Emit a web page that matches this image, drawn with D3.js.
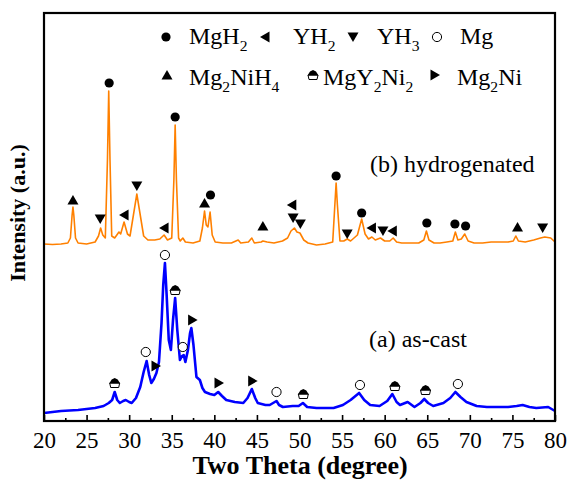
<!DOCTYPE html>
<html><head><meta charset="utf-8">
<script src="https://cdn.jsdelivr.net/npm/d3@7"></script>
<style>body{margin:0;background:#fff}svg{display:block}text{font-family:"Liberation Serif","Times New Roman",serif}</style>
</head><body><svg id="c" width="568" height="481"></svg>
<script>
// ---- data (2theta in degrees, intensity in arbitrary units) ----
const hydrogenated = [[20,177],[21,176.5],[22,177],[22.8,178],[23.1,183],[23.3,206],[23.4,214],[23.5,206],[23.7,183],[24,178],[25,177],[26,179],[26.4,185],[26.65,193],[26.9,186],[27.2,183],[27.45,261],[27.6,330],[27.75,261],[27.95,185],[28.3,183],[28.8,189],[29,187],[29.4,199],[29.8,187],[30.1,185],[30.5,206],[30.9,227],[31.3,206],[31.7,185],[32.2,181],[33,181],[33.6,182],[34.1,186],[34.5,181],[35,183],[35.25,241],[35.4,296],[35.55,241],[35.8,183],[36,180],[36.3,183],[36.6,179],[37.5,178],[38.3,180],[38.6,193],[38.85,210],[39.05,196],[39.25,194],[39.5,209],[39.75,186],[40.1,179],[41,178],[42,178],[42.8,181],[43.1,178],[44,179],[44.4,183],[44.7,178],[45.5,179],[45.7,180],[46.2,179],[47,178],[48,180],[48.6,183],[49,190],[49.4,193],[49.7,189],[50.05,188],[50.5,181],[51,178],[52,176],[53,177],[53.9,179],[54.15,216],[54.3,238],[54.45,216],[54.75,180],[55.2,180],[55.6,182],[56,180],[56.8,186],[57.3,202],[57.7,187],[58.1,182],[58.5,184],[58.9,181],[59.5,183],[60,180],[60.6,180],[61,183],[61.4,179],[62,178],[63,178],[64,178],[64.6,181],[64.9,190],[65.2,181],[65.8,178],[66.5,178],[67.3,179],[68,180],[68.3,189],[68.6,181],[69,182],[69.4,187],[69.8,180],[70.5,178],[71.5,178],[72.5,179],[73.5,179],[74.5,179],[75.1,180],[75.4,185],[75.7,180],[76.5,179],[77.5,181],[78.3,183],[78.8,184],[79.5,183],[80,179]];
const asCast = [[20,8],[21,9],[22,10],[23,10.5],[24,11],[25,12],[26,13],[27,15],[27.6,18],[28,21],[28.3,29],[28.6,21],[28.9,18],[29.3,20],[29.6,21],[30,19],[30.3,18],[30.8,23],[31.3,34],[31.7,49],[32.05,60],[32.35,46],[32.6,38],[32.9,42],[33.2,48],[33.5,59],[33.8,98],[34,136],[34.2,158],[34.4,126],[34.65,81],[34.9,71],[35.15,101],[35.4,123],[35.65,91],[35.96,61],[36.2,65],[36.4,66],[36.6,59],[36.9,71],[37.15,88],[37.3,93],[37.55,76],[37.9,44],[38.3,41],[38.6,33],[38.9,29],[39.5,27],[40,26],[40.45,29],[40.9,25],[41.4,21],[42.4,19],[43.4,18],[43.9,23],[44.4,32],[44.8,23],[45.1,18],[46,16],[46.5,16],[47.3,20],[47.6,16],[48.05,14],[49.2,15],[49.9,15],[50.4,18],[50.9,14],[52,13],[52.8,13],[54,13],[55.1,16],[56,21],[57,28],[57.6,21],[58.3,16],[59.4,15],[60.3,20],[60.9,27],[61.4,19],[61.8,16],[62.7,19],[63.5,14],[64.2,18],[64.65,22],[65.1,18],[65.7,15],[66.9,18],[67.7,23],[68.3,29],[68.9,24],[69.6,19],[70.8,15],[72,14],[73.1,14],[74.5,14],[75.5,15],[76.2,16],[77,14],[77.8,13],[79.2,14],[80,10]];

// phase markers: [2theta, level]
const mgH2 = [[27.65,338],[35.4,304],[39.55,226],[54.3,245],[57.3,208],[64.95,198],[68.25,197],[69.5,195]];
const yH2 = [[29.4,206],[34.1,193],[49.1,216],[58.45,193],[60.9,190]];
const yH3 = [[26.6,202],[30.9,235],[49.25,203],[50.1,197],[55.6,187],[59.8,190],[78.55,193]];
const mg = [[31.95,69],[34.2,166],[36.3,74],[47.3,29],[57.1,36],[68.6,37]];
const mg2NiH4 = [[23.4,221],[38.85,218],[45.7,195],[75.6,194]];
const mgY2Ni2 = [[28.3,38],[35.4,131],[50.45,27],[61.2,35],[64.8,31]];
const mg2Ni = [[33.15,55],[37.45,101],[40.55,38],[44.5,40]];

const xMajor = [20,25,30,35,40,45,50,55,60,65,70,75,80];
const xMinor = [22.5,27.5,32.5,37.5,42.5,47.5,52.5,57.5,62.5,67.5,72.5,77.5];

// ---- drawing ----
const svg = d3.select("#c");
const L=44, R=555, T=13, B=421;
const x = d3.scaleLinear().domain([20,80]).range([L,R]);
const y = d3.scaleLinear().domain([0,408]).range([B,T]);

const line = d3.line().x(d=>x(d[0])).y(d=>y(d[1]));
svg.append("path").datum(asCast).attr("d",line).attr("fill","none").attr("stroke","#0000ff").attr("stroke-width",2.6).attr("stroke-linejoin","round");
svg.append("path").datum(hydrogenated).attr("d",line).attr("fill","none").attr("stroke","#ff8000").attr("stroke-width",1.6).attr("stroke-linejoin","round");

// axes (inward ticks)
const gx = svg.append("g").attr("transform",`translate(0,${B})`)
  .call(d3.axisBottom(x).tickValues(xMajor).tickSize(-6).tickFormat(d3.format("d")));
gx.select(".domain").remove();
gx.selectAll("line").attr("stroke","#000").attr("stroke-width",1.6);
gx.selectAll("text").attr("font-size",23).attr("fill","#000").attr("dy","0").attr("y",27);
const gm = svg.append("g").attr("transform",`translate(0,${B})`)
  .call(d3.axisBottom(x).tickValues(xMinor).tickSize(-3).tickFormat(""));
gm.select(".domain").remove();
gm.selectAll("line").attr("stroke","#000").attr("stroke-width",1.6);

svg.append("rect").attr("x",L).attr("y",T).attr("width",R-L).attr("height",B-T)
  .attr("fill","none").attr("stroke","#000").attr("stroke-width",2.2);

svg.append("text").attr("x",300).attr("y",474).attr("text-anchor","middle")
  .attr("font-size",26).attr("font-weight","bold").text("Two Theta (degree)");
svg.append("text").attr("transform","translate(25,213) rotate(-90)").attr("text-anchor","middle")
  .attr("font-size",22).attr("font-weight","bold").text("Intensity (a.u.)");

// marker symbols
function drawMarker(g, type, cx, cy){
  if(type==="dot") g.append("circle").attr("cx",cx).attr("cy",cy).attr("r",4.6).attr("fill","#000");
  else if(type==="ring") g.append("circle").attr("cx",cx).attr("cy",cy).attr("r",4.6).attr("fill","#fff").attr("stroke","#000").attr("stroke-width",1);
  else if(type==="up") g.append("path").attr("d",`M${cx-5.5},${cy+4.5}L${cx+5.5},${cy+4.5}L${cx},${cy-5}Z`).attr("fill","#000");
  else if(type==="down") g.append("path").attr("d",`M${cx-5.5},${cy-4.5}L${cx+5.5},${cy-4.5}L${cx},${cy+5}Z`).attr("fill","#000");
  else if(type==="left") g.append("path").attr("d",`M${cx+4.5},${cy-5.5}L${cx+4.5},${cy+5.5}L${cx-5},${cy}Z`).attr("fill","#000");
  else if(type==="right") g.append("path").attr("d",`M${cx-4.5},${cy-5.5}L${cx-4.5},${cy+5.5}L${cx+5},${cy}Z`).attr("fill","#000");
  else if(type==="pent"){
    g.append("path").attr("d",`M${cx-5},${cy}L${cx-4},${cy+4.5}L${cx+4},${cy+4.5}L${cx+5},${cy}Z`).attr("fill","#fff").attr("stroke","#000").attr("stroke-width",1);
    g.append("path").attr("d",`M${cx-5.5},${cy+0.5}L${cx-3},${cy-3.5}L${cx},${cy-5}L${cx+3},${cy-3.5}L${cx+5.5},${cy+0.5}Z`).attr("fill","#000");
  }
}
const mk = svg.append("g");
[[mgH2,"dot"],[yH2,"left"],[yH3,"down"],[mg,"ring"],[mg2NiH4,"up"],[mgY2Ni2,"pent"],[mg2Ni,"right"]]
  .forEach(([arr,t])=>arr.forEach(d=>drawMarker(mk,t,x(d[0]),y(d[1]))));

// legend
function richText(xp, yp, parts, size){
  const t = svg.append("text").attr("x",xp).attr("y",yp).attr("font-size",size);
  let shift = 0;
  parts.forEach(p=>{
    const sub = p[1];
    const target = sub?7:0;
    t.append("tspan").attr("dy",target-shift).attr("font-size",sub?size*0.65:size).text(p[0]);
    shift = target;
  });
  return t;
}
const lg = svg.append("g");
drawMarker(lg,"dot",166,37); richText(189,44,[["MgH"],["2",1]],24);
drawMarker(lg,"left",265,37); richText(293,44,[["YH"],["2",1]],24);
drawMarker(lg,"down",353,37); richText(377,44,[["YH"],["3",1]],24);
drawMarker(lg,"ring",437,37); richText(460,44,[["Mg"]],24);
drawMarker(lg,"up",167,75); richText(189,85,[["Mg"],["2",1],["NiH"],["4",1]],24);
drawMarker(lg,"pent",313,75); richText(323,85,[["MgY"],["2",1],["Ni"],["2",1]],24);
drawMarker(lg,"right",435,75); richText(457,85,[["Mg"],["2",1],["Ni"]],24);

svg.append("text").attr("x",370).attr("y",172).attr("font-size",24).text("(b) hydrogenated");
svg.append("text").attr("x",369).attr("y",347).attr("font-size",24).text("(a) as-cast");
</script></body></html>
